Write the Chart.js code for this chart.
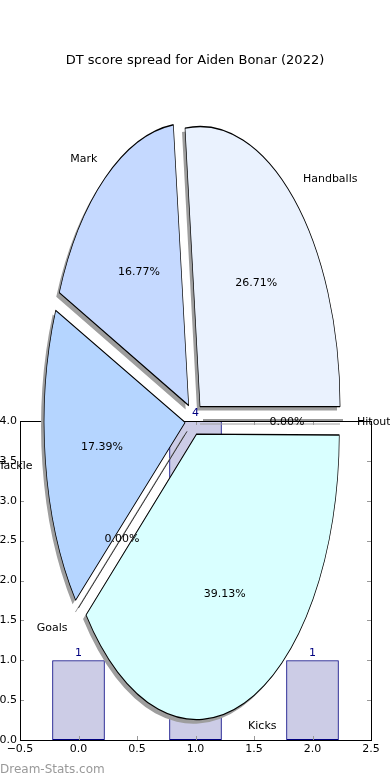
<!DOCTYPE html>
<html>
<head>
<meta charset="utf-8">
<script src="https://cdn.jsdelivr.net/npm/chart.js@4.4.0/dist/chart.umd.min.js"></script>
<style>
  html, body { margin: 0; padding: 0; background: #fff; }
  #wrap { position: relative; width: 390px; height: 780px; overflow: hidden; }
  #wrap canvas { position: absolute; left: 0; top: 0; }
  #shade { left: -3px !important; top: 4px !important; }
</style>
</head>
<body>
<div id="wrap">
  <canvas id="bars" width="390" height="780"></canvas>
  <canvas id="shade" width="390" height="780"></canvas>
  <canvas id="pie" width="390" height="780"></canvas>
</div>
<script>
const chartTitle = 'DT score spread for Aiden Bonar (2022)';
const watermark = 'Dream-Stats.com';

// pie: share of DT score per stat
const statLabels = ['Handballs', 'Mark', 'Tackle', 'Goals', 'Kicks', 'Hitout'];
const statScores = [43, 27, 28, 0, 63, 0];
const statColours = ['#eaf2fe', '#c5d9ff', '#b5d5ff', '#ffffff', '#d9ffff', '#ffffff'];

// bars underneath
const barPositions = [0, 1, 2];
const barCounts = [1, 4, 1];

const pieStretch = 2.0;

Chart.defaults.font.family = 'DejaVu Sans';
Chart.defaults.font.size = 11;
Chart.defaults.color = '#000';

const fmtTick = v => (v < 0 ? '\u2212' : '') + Math.abs(v).toFixed(1);

const framePlugin = {
  id: 'frame',
  afterDraw(chart) {
    const { ctx, chartArea: a, scales } = chart;
    ctx.save();
    // inward ticks on all four sides
    ctx.strokeStyle = '#999';
    ctx.lineWidth = 1;
    ctx.beginPath();
    scales.x.ticks.forEach(t => {
      const px = Math.round(scales.x.getPixelForValue(t.value)) + 0.5;
      ctx.moveTo(px, a.bottom); ctx.lineTo(px, a.bottom - 4);
      ctx.moveTo(px, a.top); ctx.lineTo(px, a.top + 4);
    });
    scales.y.ticks.forEach(t => {
      const py = Math.round(scales.y.getPixelForValue(t.value)) + 0.5;
      ctx.moveTo(a.left, py); ctx.lineTo(a.left + 4, py);
      ctx.moveTo(a.right, py); ctx.lineTo(a.right - 4, py);
    });
    ctx.stroke();
    ctx.strokeStyle = '#000';
    ctx.strokeRect(Math.round(a.left) + 0.5, Math.round(a.top) + 0.5,
                   Math.round(a.right - a.left), Math.round(a.bottom - a.top));
    // title and site mark
    ctx.fillStyle = '#000';
    ctx.font = '13px "DejaVu Sans"';
    ctx.textAlign = 'center';
    ctx.textBaseline = 'middle';
    ctx.fillText(chartTitle, 195, 61);
    ctx.fillStyle = '#999';
    ctx.font = '12px "DejaVu Sans"';
    ctx.textAlign = 'left';
    ctx.fillText(watermark, 0, 770);
    ctx.restore();
  }
};

const barChart = new Chart(document.getElementById('bars'), {
  type: 'bar',
  data: {
    datasets: [{
      data: barPositions.map((x, i) => ({ x: x, y: barCounts[i] })),
      backgroundColor: 'rgba(0,0,128,0.2)',
      borderColor: 'navy',
      borderWidth: 1,
      borderSkipped: false,
      barPercentage: 0.9,
      categoryPercentage: 1
    }]
  },
  options: {
    responsive: false,
    animation: false,
    devicePixelRatio: 1,
    layout: { padding: { left: 0, right: 19, top: 421, bottom: 10 } },
    plugins: { legend: { display: false }, tooltip: { enabled: false } },
    scales: {
      x: {
        type: 'linear', min: -0.5, max: 2.5, offset: false,
        grid: { display: false, drawTicks: false },
        border: { display: false },
        ticks: { stepSize: 0.5, padding: 3, autoSkip: false, maxRotation: 0, callback: fmtTick },
        afterFit: s => { s.height = 30; }
      },
      y: {
        min: 0, max: 4,
        grid: { display: false, drawTicks: false },
        border: { display: false },
        ticks: { stepSize: 0.5, padding: 3, callback: fmtTick },
        afterFit: s => { s.width = 20; }
      }
    }
  },
  plugins: [framePlugin]
});

// map a point at angle/distance from an arc's centre onto the stretched, flipped pie
const onPie = (a, ang, d) => ({ x: a.x + Math.cos(ang) * d, y: a.y - pieStretch * Math.sin(ang) * d });

// squash the round pie into the tall ellipse and make it run anticlockwise
function stretchPlugin(lineColour) {
  return {
    id: 'stretch',
    beforeDatasetsDraw(chart) {
      const arc = chart.getDatasetMeta(0).data[0];
      const ctx = chart.ctx;
      ctx.save();
      ctx.translate(arc.x, arc.y);
      ctx.scale(1, -pieStretch);
      ctx.translate(-arc.x, -arc.y);
    },
    afterDatasetsDraw(chart) {
      const ctx = chart.ctx;
      ctx.restore();
      // empty slices still leave their edge line
      ctx.save();
      ctx.strokeStyle = lineColour;
      ctx.lineWidth = 1;
      chart.getDatasetMeta(0).data.forEach(a => {
        if (a.endAngle - a.startAngle > 0) return;
        const shift = a.options.offset / 4;
        const p0 = onPie(a, a.startAngle, shift);
        const p1 = onPie(a, a.startAngle, shift + a.outerRadius);
        ctx.beginPath();
        ctx.moveTo(p0.x, p0.y);
        ctx.lineTo(p1.x, p1.y);
        ctx.stroke();
      });
      ctx.restore();
    }
  };
}

const labelPlugin = {
  id: 'pieLabels',
  afterDraw(chart) {
    const ctx = chart.ctx;
    const arcs = chart.getDatasetMeta(0).data;
    const total = statScores.reduce((s, v) => s + v, 0);
    ctx.save();
    ctx.fillStyle = '#000';
    ctx.font = '11px "DejaVu Sans"';
    ctx.textBaseline = 'middle';
    arcs.forEach((a, i) => {
      const mid = (a.startAngle + a.endAngle) / 2;
      const shift = a.options.offset / 4;
      const lp = onPie(a, mid, shift + 1.1 * a.outerRadius);
      ctx.textAlign = Math.cos(mid) > 0 ? 'left' : 'right';
      ctx.fillText(statLabels[i], lp.x, lp.y + 2);
      const pp = onPie(a, mid, shift + 0.6 * a.outerRadius);
      ctx.textAlign = 'center';
      ctx.fillText((statScores[i] / total * 100).toFixed(2) + '%', pp.x, pp.y + 2);
    });
    // bar values sit on top of everything
    ctx.fillStyle = 'navy';
    ctx.textBaseline = 'bottom';
    barChart.getDatasetMeta(0).data.forEach((b, i) => {
      ctx.fillText(String(barCounts[i]), b.x, b.y - 2);
    });
    ctx.restore();
  }
};

function pieConfig(fills, border, lineColour, extra) {
  return {
    type: 'pie',
    data: {
      labels: statLabels,
      datasets: [{
        data: statScores,
        backgroundColor: fills,
        borderColor: border || fills,
        borderWidth: border ? 0.7 : 0,
        offset: [36, 36, 36, 36, 30, 36],
        radius: 140,
        rotation: 90
      }]
    },
    options: {
      responsive: false,
      animation: false,
      devicePixelRatio: 1,
      layout: { padding: { left: 0, right: 2, top: 60, bottom: 0 } },
      plugins: { legend: { display: false }, tooltip: { enabled: false } }
    },
    plugins: [stretchPlugin(lineColour)].concat(extra)
  };
}

new Chart(document.getElementById('shade'), pieConfig('#9e9e9e', null, '#9e9e9e', []));
new Chart(document.getElementById('pie'), pieConfig(statColours, '#000', '#333', [labelPlugin]));
</script>
</body>
</html>
